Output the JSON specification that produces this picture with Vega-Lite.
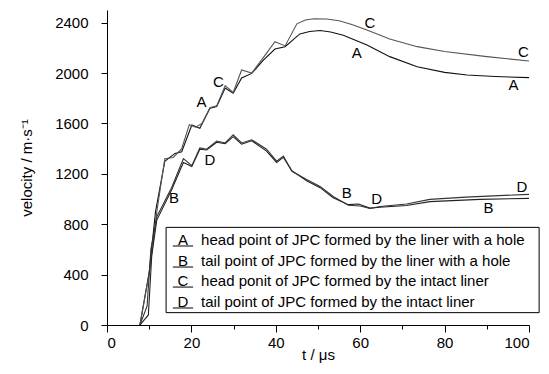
{
  "$schema": "https://vega.github.io/schema/vega-lite/v6.json",
  "width": 422,
  "height": 315,
  "autosize": "none",
  "padding": {"left": 107, "top": 10, "right": 20, "bottom": 49},
  "background": "white",
  "config": {
    "view": {"stroke": null},
    "font": "Liberation Sans",
    "axis": {
      "domainColor": "black",
      "tickColor": "black",
      "labelColor": "black",
      "titleColor": "black",
      "labelFont": "Liberation Sans",
      "titleFont": "Liberation Sans",
      "labelFontSize": 15,
      "titleFontSize": 15,
      "titleFontWeight": "normal",
      "grid": false
    }
  },
  "datasets": {
    "curves": [
      {"s": "A", "t": 7.8, "v": 0}, {"s": "A", "t": 10, "v": 420}, {"s": "A", "t": 11.5, "v": 900}, {"s": "A", "t": 13.7, "v": 1300},
      {"s": "A", "t": 16.1, "v": 1362}, {"s": "A", "t": 17.7, "v": 1375}, {"s": "A", "t": 20.1, "v": 1587}, {"s": "A", "t": 22, "v": 1561},
      {"s": "A", "t": 24.4, "v": 1720}, {"s": "A", "t": 26, "v": 1733}, {"s": "A", "t": 28, "v": 1880}, {"s": "A", "t": 29.9, "v": 1839},
      {"s": "A", "t": 31.9, "v": 1960}, {"s": "A", "t": 34.3, "v": 1997}, {"s": "A", "t": 37, "v": 2100}, {"s": "A", "t": 39.8, "v": 2190},
      {"s": "A", "t": 42.2, "v": 2209}, {"s": "A", "t": 45.7, "v": 2310}, {"s": "A", "t": 48, "v": 2330}, {"s": "A", "t": 50.5, "v": 2337},
      {"s": "A", "t": 53, "v": 2325}, {"s": "A", "t": 56, "v": 2300},
      {"s": "A", "t": 61.6, "v": 2222}, {"s": "A", "t": 67, "v": 2130}, {"s": "A", "t": 73.5, "v": 2050}, {"s": "A", "t": 80, "v": 2005},
      {"s": "A", "t": 85.3, "v": 1984}, {"s": "A", "t": 92, "v": 1972}, {"s": "A", "t": 100, "v": 1963},
      {"s": "C", "t": 7.8, "v": 0}, {"s": "C", "t": 10.2, "v": 450}, {"s": "C", "t": 11.8, "v": 900}, {"s": "C", "t": 13.7, "v": 1320},
      {"s": "C", "t": 15.7, "v": 1330}, {"s": "C", "t": 17.7, "v": 1400}, {"s": "C", "t": 19.5, "v": 1590}, {"s": "C", "t": 21, "v": 1570},
      {"s": "C", "t": 22.5, "v": 1600}, {"s": "C", "t": 24.4, "v": 1725}, {"s": "C", "t": 26, "v": 1740}, {"s": "C", "t": 28, "v": 1900},
      {"s": "C", "t": 29.9, "v": 1845}, {"s": "C", "t": 31.9, "v": 2024}, {"s": "C", "t": 34.3, "v": 2000}, {"s": "C", "t": 37, "v": 2120},
      {"s": "C", "t": 39.8, "v": 2249}, {"s": "C", "t": 42.2, "v": 2215}, {"s": "C", "t": 45, "v": 2390}, {"s": "C", "t": 47, "v": 2420},
      {"s": "C", "t": 49, "v": 2430}, {"s": "C", "t": 52, "v": 2428}, {"s": "C", "t": 55, "v": 2415}, {"s": "C", "t": 58, "v": 2385},
      {"s": "C", "t": 61.6, "v": 2341}, {"s": "C", "t": 67, "v": 2270}, {"s": "C", "t": 73.5, "v": 2209},
      {"s": "C", "t": 80, "v": 2170}, {"s": "C", "t": 90, "v": 2130}, {"s": "C", "t": 100, "v": 2095},
      {"s": "B", "t": 7.8, "v": 0}, {"s": "B", "t": 9.8, "v": 80}, {"s": "B", "t": 10.6, "v": 550}, {"s": "B", "t": 11.8, "v": 833},
      {"s": "B", "t": 15.3, "v": 1071}, {"s": "B", "t": 18.1, "v": 1290}, {"s": "B", "t": 20.1, "v": 1257}, {"s": "B", "t": 22, "v": 1395},
      {"s": "B", "t": 23.6, "v": 1389}, {"s": "B", "t": 26, "v": 1450}, {"s": "B", "t": 28, "v": 1440}, {"s": "B", "t": 29.9, "v": 1495},
      {"s": "B", "t": 31.9, "v": 1435}, {"s": "B", "t": 34.3, "v": 1462}, {"s": "B", "t": 37.8, "v": 1380}, {"s": "B", "t": 40.2, "v": 1290},
      {"s": "B", "t": 41.8, "v": 1330}, {"s": "B", "t": 43.8, "v": 1225}, {"s": "B", "t": 47.3, "v": 1145}, {"s": "B", "t": 50.5, "v": 1090},
      {"s": "B", "t": 53.6, "v": 1010}, {"s": "B", "t": 57.2, "v": 955}, {"s": "B", "t": 59.6, "v": 960}, {"s": "B", "t": 62.3, "v": 928},
      {"s": "B", "t": 64.7, "v": 935}, {"s": "B", "t": 71, "v": 948}, {"s": "B", "t": 76.5, "v": 979}, {"s": "B", "t": 88.4, "v": 997},
      {"s": "B", "t": 100, "v": 1005},
      {"s": "D", "t": 7.8, "v": 0}, {"s": "D", "t": 9.5, "v": 150}, {"s": "D", "t": 10.4, "v": 600}, {"s": "D", "t": 11.8, "v": 860},
      {"s": "D", "t": 15.3, "v": 1090}, {"s": "D", "t": 18.1, "v": 1320}, {"s": "D", "t": 20.1, "v": 1265}, {"s": "D", "t": 22, "v": 1405},
      {"s": "D", "t": 23.6, "v": 1395}, {"s": "D", "t": 26, "v": 1460}, {"s": "D", "t": 28, "v": 1445}, {"s": "D", "t": 29.9, "v": 1510},
      {"s": "D", "t": 31.9, "v": 1445}, {"s": "D", "t": 34.3, "v": 1470}, {"s": "D", "t": 37.8, "v": 1395}, {"s": "D", "t": 40.2, "v": 1300},
      {"s": "D", "t": 41.8, "v": 1340}, {"s": "D", "t": 43.8, "v": 1220}, {"s": "D", "t": 47.3, "v": 1155}, {"s": "D", "t": 50.5, "v": 1100},
      {"s": "D", "t": 53.6, "v": 1020}, {"s": "D", "t": 57.2, "v": 950}, {"s": "D", "t": 60, "v": 945}, {"s": "D", "t": 62.3, "v": 925},
      {"s": "D", "t": 64.7, "v": 940}, {"s": "D", "t": 71, "v": 960}, {"s": "D", "t": 76.5, "v": 997}, {"s": "D", "t": 85, "v": 1015},
      {"s": "D", "t": 100, "v": 1037}
    ],
    "labels": [
      {"t": 22.4, "v": 1772, "label": "A"},
      {"t": 26.4, "v": 1931, "label": "C"},
      {"t": 62.3, "v": 2399, "label": "C"},
      {"t": 59.2, "v": 2161, "label": "A"},
      {"t": 98.7, "v": 2169, "label": "C"},
      {"t": 96.3, "v": 1905, "label": "A"},
      {"t": 24.4, "v": 1310, "label": "D"},
      {"t": 15.9, "v": 1005, "label": "B"},
      {"t": 56.8, "v": 1050, "label": "B"},
      {"t": 63.9, "v": 998, "label": "D"},
      {"t": 98.3, "v": 1093, "label": "D"},
      {"t": 90.4, "v": 926, "label": "B"}
    ],
    "box": [{"t": 14.0, "t2": 102.4, "v": 98, "v2": 775}],
    "legend": [
      {"letter": "A", "text": "head point of JPC formed by the liner with a hole", "v": 675, "lt": 18.0, "tt": 22.3, "u1": 15.6, "u2": 20.4, "uv": 627},
      {"letter": "B", "text": "tail point of JPC formed by the liner with a hole", "v": 508, "lt": 18.0, "tt": 22.3, "u1": 15.6, "u2": 20.4, "uv": 460},
      {"letter": "C", "text": "head ponit of JPC formed by the intact liner", "v": 349, "lt": 18.0, "tt": 22.3, "u1": 15.6, "u2": 20.4, "uv": 301},
      {"letter": "D", "text": "tail point of JPC formed by the intact liner", "v": 183, "lt": 18.0, "tt": 22.3, "u1": 15.6, "u2": 20.4, "uv": 135}
    ]
  },
  "layer": [
    {
      "data": {"name": "curves"},
      "mark": {"type": "line", "strokeWidth": 1.1, "clip": true},
      "encoding": {
        "x": {
          "field": "t", "type": "quantitative",
          "scale": {"domain": [0, 100], "nice": false},
          "axis": {
            "title": "t / μs",
            "values": [0, 10, 20, 30, 40, 50, 60, 70, 80, 90, 100],
            "labelExpr": "datum.value % 20 === 0 ? datum.label : ''",
            "tickSize": {"condition": {"test": "datum.value % 20 === 0", "value": 7}, "value": 4},
            "labelPadding": 3,
            "titlePadding": -3
          }
        },
        "y": {
          "field": "v", "type": "quantitative",
          "scale": {"domain": [0, 2500], "nice": false},
          "axis": {
            "title": "velocity / m·s⁻¹",
            "values": [0, 100, 200, 300, 400, 500, 600, 700, 800, 900, 1000, 1100, 1200, 1300, 1400, 1500, 1600, 1700, 1800, 1900, 2000, 2100, 2200, 2300, 2400, 2500],
            "labelExpr": "datum.value % 400 === 0 ? datum.label : ''",
            "format": "d",
            "tickSize": {"condition": {"test": "datum.value % 400 === 0", "value": 6}, "value": 4},
            "labelPadding": 13,
            "titlePadding": 20
          }
        },
        "detail": {"field": "s"},
        "color": {
          "field": "s", "type": "nominal",
          "scale": {"domain": ["A", "B", "C", "D"], "range": ["#111111", "#222222", "#555555", "#333333"]},
          "legend": null
        }
      }
    },
    {
      "data": {"name": "labels"},
      "mark": {"type": "text", "fontSize": 15, "color": "black", "align": "center", "baseline": "middle"},
      "encoding": {
        "x": {"field": "t", "type": "quantitative"},
        "y": {"field": "v", "type": "quantitative"},
        "text": {"field": "label"}
      }
    },
    {
      "data": {"name": "box"},
      "mark": {"type": "rect", "fill": "white", "stroke": "black", "strokeWidth": 1},
      "encoding": {
        "x": {"field": "t", "type": "quantitative"},
        "x2": {"field": "t2"},
        "y": {"field": "v", "type": "quantitative"},
        "y2": {"field": "v2"}
      }
    },
    {
      "data": {"name": "legend"},
      "mark": {"type": "text", "fontSize": 15, "color": "black", "align": "center", "baseline": "middle"},
      "encoding": {
        "x": {"field": "lt", "type": "quantitative"},
        "y": {"field": "v", "type": "quantitative"},
        "text": {"field": "letter"}
      }
    },
    {
      "data": {"name": "legend"},
      "mark": {"type": "rule", "color": "black", "strokeWidth": 1},
      "encoding": {
        "x": {"field": "u1", "type": "quantitative"},
        "x2": {"field": "u2"},
        "y": {"field": "uv", "type": "quantitative"}
      }
    },
    {
      "data": {"name": "legend"},
      "mark": {"type": "text", "fontSize": 15, "color": "black", "align": "left", "baseline": "middle"},
      "encoding": {
        "x": {"field": "tt", "type": "quantitative"},
        "y": {"field": "v", "type": "quantitative"},
        "text": {"field": "text"}
      }
    }
  ]
}
